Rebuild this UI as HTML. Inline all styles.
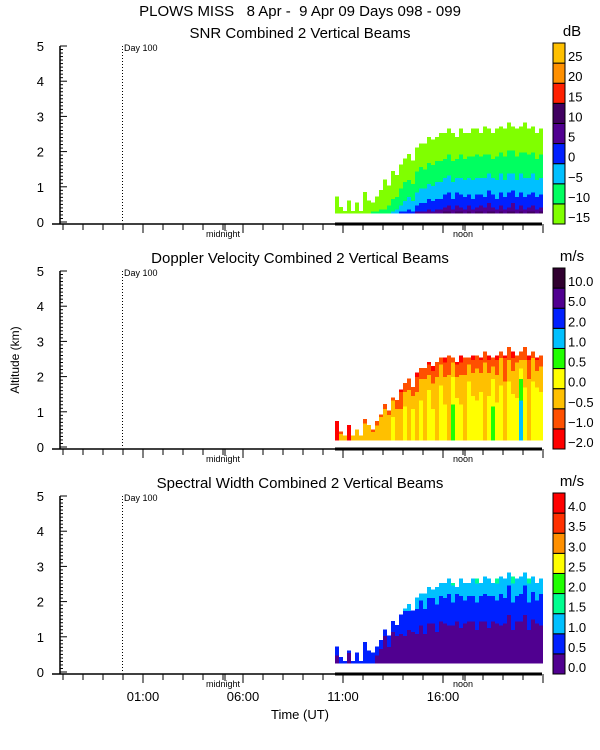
<!DOCTYPE html>
<html><head><meta charset="utf-8"><style>
body{margin:0;background:#fff}
svg{display:block;font-family:"Liberation Sans",sans-serif}
</style></head><body>
<svg id="c" width="600" height="750" xmlns="http://www.w3.org/2000/svg"></svg>
<script>
// ---- data ----
const colHours = [];  // column start times (UT hours)
for (let i = 0; i < 52; i++) colHours.push(10.6 + 0.2 * i);
const echoTop = [0.7,0.4,0.3,0.6,0.3,0.5,0.3,0.8,0.6,0.5,0.7,0.9,
  1.2,1.0,1.4,1.3,1.6,1.8,1.9,1.7,2.1,2.2,2.2,2.4,2.3,2.4,2.5,
  2.5,2.6,2.5,2.4,2.6,2.5,2.5,2.6,2.6,2.5,2.7,2.6,2.5,2.6,2.7,2.6,2.8,2.7,2.6,2.7,2.8,2.6,2.7,2.5,2.6];
const snrSurface = [-13,-14,-13,-12,-14,-13,-12,-11,-12,-10,-9,-8,
  -8,-6,-4,-2,0,2,3,2,5,7,6,8,7,9,8,
  10,11,8,12,10,9,11,8,10,11,9,12,10,8,11,9,10,12,9,11,8,10,11,9,10];
const dopSurface = [-1.5,-0.3,-0.2,-1.2,-0.4,-0.3,-0.2,-0.3,-0.2,-0.4,-0.3,-0.2,
  -0.3,-0.2,0.1,-0.2,-0.3,0.2,-0.2,0.3,-0.1,0.2,-0.2,0.4,0.1,-0.1,0.3,
  0.1,-0.2,0.6,0.2,0.1,-0.1,0.4,0.2,0.1,0.3,-0.1,0.2,0.6,0.1,0.2,-0.2,0.3,0.2,0.1,1.2,0.2,-0.1,0.3,0.4,0.2];
const dopTopVal = [-1.5,-0.7,-0.6,-1.2,-0.6,-0.6,-0.6,-0.7,-0.6,-0.6,-0.7,-0.6,
  -0.6,-0.7,-0.6,-0.8,-1.1,-0.9,-0.7,-1.1,-1.2,-0.9,-0.7,-1.1,-1.3,-0.9,-0.7,
  -1.2,-0.9,-0.7,-1.1,-1.3,-0.9,-0.7,-1.2,-0.9,-1.1,-0.7,-1.3,-0.9,-1.2,-0.7,-1.1,-0.9,-1.3,-0.7,-1.1,-0.9,-1.2,-0.7,-1.1,-0.9];
const widthSurface = [0.4,0.6,0.6,0.3,0.6,0.7,0.6,0.5,0.6,0.5,0.4,0.3,
  0.3,0.4,0.2,0.2,0.2,0.3,0.2,0.2,0.3,0.2,0.3,0.2,0.2,0.3,0.2,
  0.2,0.3,0.2,0.2,0.3,0.2,0.2,0.2,0.3,0.2,0.2,0.3,0.2,0.2,0.3,0.2,0.2,0.3,0.2,0.2,0.2,0.3,0.2,0.2,0.3];
const widthTop = [0.8,0.9,0.8,0.7,0.9,0.8,0.9,0.8,0.7,0.9,0.8,0.9,
  0.6,0.7,0.7,0.8,1.0,1.1,1.2,1.0,1.3,1.2,1.4,1.3,1.2,1.5,1.3,
  1.4,1.3,1.6,1.2,1.4,1.5,1.3,1.4,1.6,1.3,1.5,1.4,1.3,1.6,1.4,1.5,1.3,1.7,1.4,1.5,1.3,1.6,1.4,1.5,1.3];
const yTicks = [0,1,2,3,4,5];
const xTickLabels = ["01:00","06:00","11:00","16:00"];
const xTickHours = [1,6,11,16];
const snrBounds = [-15,-10,-5,0,5,10,15,20,25];
const snrColors = ["#80ff00","#00ff60","#00c0ff","#0020ff","#500090","#400060","#ff2000","#ff9000","#ffc000"];
const dopLabels = ["-2.0","-1.0","-0.5","0.0","0.5","1.0","2.0","5.0","10.0"];
const dopBounds = [-2,-1,-0.5,0,0.5,1,2,5,10];
const dopColors = ["#ff0000","#ff5000","#ffc000","#ffff00","#20ff00","#00c0ff","#0020ff","#500090","#300030"];
const widLabels = ["0.0","0.5","1.0","1.5","2.0","2.5","3.0","3.5","4.0"];
const widBounds = [0,0.5,1,1.5,2,2.5,3,3.5,4];
const widColors = ["#500090","#0020ff","#00c0ff","#00ff90","#20ff00","#ffff00","#ff9000","#ff3000","#ff0000"];

// ---- layout ----
const svg = document.getElementById('c');
const NS = "http://www.w3.org/2000/svg";
const X0 = 60, X1 = 542;
const xOf = h => 123 + h * 20;
function mk(tag, attrs, parent) {
  const e = document.createElementNS(NS, tag);
  for (const k in attrs) e.setAttribute(k, attrs[k]);
  (parent || svg).appendChild(e);
  return e;
}
function txt(s, x, y, size, anchor, parent) {
  const t = mk('text', {x: x, y: y, 'font-size': size, 'text-anchor': anchor || 'start', fill: '#000'}, parent);
  t.textContent = s;
  return t;
}
function classify(v, bounds) {
  let k = 0;
  for (let i = 0; i < bounds.length; i++) if (v >= bounds[i]) k = i;
  return k;
}

const t0 = txt("PLOWS MISS   8 Apr -  9 Apr 09 Days 098 - 099", 300, 16, 15, 'middle');


t0.style.whiteSpace = 'pre';

const panels = [
  {top: 46, title: "SNR Combined 2 Vertical Beams", unit: "dB", name: "snr", base: 0.25,
   bounds: snrBounds, colors: snrColors, labels: snrBounds.map(String),
   val: (i, f) => snrSurface[i] + (-15 - snrSurface[i]) * Math.pow(f, 0.6)},
  {top: 271, title: "Doppler Velocity Combined 2 Vertical Beams", unit: "m/s", name: "doppler", base: 0.2,
   bounds: dopBounds, colors: dopColors, labels: dopLabels,
   val: (i, f) => dopSurface[i] + (dopTopVal[i] - dopSurface[i]) * f * f * f},
  {top: 496, title: "Spectral Width Combined 2 Vertical Beams", unit: "m/s", name: "width", base: 0.25,
   bounds: widBounds, colors: widColors, labels: widLabels,
   val: (i, f) => widthSurface[i] + (widthTop[i] - widthSurface[i]) * f * f}
];

panels.forEach(p => {
  const g = mk('g', {});
  
  
  const bot = p.top + 176;
  const yOf = km => bot - km * 35.2;
  const st = txt(p.title, 300, p.top - 8, 15, 'middle', g);
  
  
  const dg = mk('g', {'shape-rendering': 'crispEdges'}, g);
  
  
  colHours.forEach((h, i) => {
    const top = echoTop[i];
    const step = 0.06;
    for (let z = p.base; z < top; z += step) {
      const f = (z - p.base) / Math.max(top - p.base, 0.01);
      const v = p.val(i, f);
      const c = p.colors[classify(v, p.bounds)];
      const r = mk('rect', {x: xOf(h), y: yOf(z + step), width: 4, height: step * 35.2 + 0.5, fill: c}, dg);
      
      
    }
  });
  mk('line', {x1: X0, y1: p.top, x2: X0, y2: bot + 2, stroke: '#000', 'stroke-width': 1.5}, g);
  for (let k = 0; k <= 50; k++) {
    const y = yOf(k / 10);
    mk('line', {x1: X0, y1: y, x2: X0 + (k % 10 === 0 ? 7 : 3), y2: y, stroke: '#000', 'stroke-width': 1}, g);
  }
  yTicks.forEach(v => {
    const t = txt(String(v), 44, yOf(v) + 5, 13, 'end', g);
    
    
  });
  mk('line', {x1: 52, y1: bot + 2, x2: X1, y2: bot + 2, stroke: '#000', 'stroke-width': 1.5}, g);
  mk('line', {x1: xOf(colHours[0]), y1: bot + 2, x2: X1, y2: bot + 2, stroke: '#000', 'stroke-width': 3}, g);
  for (let h = -3; h <= 21; h++) {
    const x = xOf(h);
    mk('line', {x1: x, y1: bot + 2, x2: x, y2: bot + (((h - 1) % 5 === 0) ? 11 : 8), stroke: '#000', 'stroke-width': 1}, g);
  }
  [[5, 'midnight'], [17, 'noon']].forEach(([h, s]) => {
    mk('line', {x1: xOf(h) + 2, y1: bot + 2, x2: xOf(h) + 2, y2: bot + 9, stroke: '#000', 'stroke-width': 1}, g);
    const t = txt(s, xOf(h), bot + 15, 9, 'middle', g);
    
    
  });
  mk('line', {x1: 122.5, y1: p.top, x2: 122.5, y2: bot, stroke: '#000', 'stroke-width': 1, 'stroke-dasharray': '1,2'}, g);
  const dl = txt("Day 100", 124, p.top + 5, 9, 'start', g);
  
  
  const cb = mk('g', {}, g);
  
  
  const cTop = p.top - 3, cBot = bot + 2, segH = (cBot - cTop) / 9;
  p.colors.forEach((c, k) => {
    const y = cBot - (k + 1) * segH;
    mk('rect', {x: 553, y: y, width: 12, height: segH, fill: c, stroke: '#000', 'stroke-width': 1}, cb);
    const t = txt(p.labels[k].replace('-', '\u2212'), 568, y + segH - 2, 13, 'start', cb);
    
    
  });
  const u = txt(p.unit, 572, p.top - 10, 15, 'middle', g);
  
  
});

xTickLabels.forEach((s, k) => {
  const t = txt(s, xOf(xTickHours[k]), 701, 13, 'middle');
  
  
});
const xt = txt("Time (UT)", 300, 719, 13, 'middle');


const yt = txt("Altitude (km)", 0, 0, 12, 'middle');
yt.setAttribute('transform', 'translate(19,360) rotate(-90)');


</script>
</body></html>
